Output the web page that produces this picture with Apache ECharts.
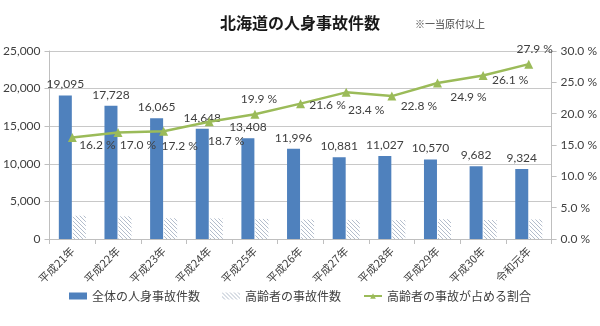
<!DOCTYPE html>
<html>
<head>
<meta charset="utf-8">
<script src="https://cdn.jsdelivr.net/npm/echarts@6/dist/echarts.min.js"></script>
<style>
  html, body { margin: 0; padding: 0; background: #fff; }
  #chart { width: 600px; height: 326px; }
</style>
</head>
<body>
<div id="chart"></div>
<script>
// 年次（平成21年〜令和元年）
const years = ['平成21年', '平成22年', '平成23年', '平成24年', '平成25年', '平成26年',
  '平成27年', '平成28年', '平成29年', '平成30年', '令和元年'];
// 全体の人身事故件数
const totalAccidents = [19095, 17728, 16065, 14648, 13408, 11996, 10881, 11027, 10570, 9682, 9324];
// 高齢者の事故件数
const elderlyAccidents = [3093, 3014, 2763, 2739, 2668, 2591, 2546, 2514, 2632, 2527, 2601];
// 高齢者の事故が占める割合（%）
const elderlyShare = [16.2, 17.0, 17.2, 18.7, 19.9, 21.6, 23.4, 22.8, 24.9, 26.1, 27.9];
// 左軸・右軸の目盛り
const countTicks = [0, 5000, 10000, 15000, 20000, 25000];
const shareTicks = [0, 5, 10, 15, 20, 25, 30];

// 割合ラベルの表示位置（点からのずらし量）
const shareLabelOffsets = [[25, 8], [20, 13], [16, 15], [17, 19], [4, -15], [27, 1],
  [20, 18], [27, 10], [31, 14], [27, 5], [6, -15]];

const numFont = 'Lato, "Noto Sans CJK JP", sans-serif';
const jpFont = '"Noto Sans CJK JP", sans-serif';

// 斜線の塗りパターン
function hatchPattern() {
  const c = document.createElement('canvas');
  c.width = 4; c.height = 4;
  const g = c.getContext('2d');
  g.fillStyle = '#ffffff';
  g.fillRect(0, 0, 4, 4);
  g.strokeStyle = '#aab6c6';
  g.lineWidth = 0.9;
  g.beginPath();
  g.moveTo(0, 0); g.lineTo(4, 4);
  g.moveTo(-2, 2); g.lineTo(2, 6);
  g.moveTo(2, -2); g.lineTo(6, 2);
  g.stroke();
  return c;
}
const hatch = { image: hatchPattern(), repeat: 'repeat' };

const chart = echarts.init(document.getElementById('chart'), null, { renderer: 'canvas' });

chart.setOption({
  animation: false,
  backgroundColor: '#ffffff',
  title: [
    {
      text: '北海道の人身事故件数',
      left: 'center',
      top: 10,
      textStyle: { fontFamily: jpFont, fontSize: 16, fontWeight: 'bold', color: '#1a1a1a' }
    },
    {
      text: '※一当原付以上',
      left: 410,
      top: 14,
      textStyle: { fontFamily: jpFont, fontSize: 10, fontWeight: 'normal', color: '#404040' }
    }
  ],
  grid: { left: 48, right: 46, top: 51, bottom: 87 },
  legend: {
    bottom: 19,
    left: 'center',
    itemGap: 22,
    itemWidth: 18,
    itemHeight: 7,
    textStyle: { fontFamily: jpFont, fontSize: 12, color: '#404040' },
    data: [
      { name: '全体の人身事故件数', icon: 'rect' },
      { name: '高齢者の事故件数', icon: 'rect' },
      { name: '高齢者の事故が占める割合' }
    ]
  },
  xAxis: {
    type: 'category',
    data: years,
    axisLine: { lineStyle: { color: '#bfbfbf' } },
    axisTick: { show: true, length: 5, lineStyle: { color: '#bfbfbf' } },
    axisLabel: {
      rotate: 45,
      margin: 10,
      fontFamily: jpFont,
      fontSize: 11,
      color: '#404040'
    }
  },
  yAxis: [
    {
      type: 'value',
      min: countTicks[0],
      max: countTicks[countTicks.length - 1],
      interval: countTicks[1] - countTicks[0],
      axisLine: { show: true, lineStyle: { color: '#bfbfbf' } },
      axisTick: { show: true, length: 5, lineStyle: { color: '#bfbfbf' } },
      splitLine: { lineStyle: { color: '#c8c8c8' } },
      axisLabel: {
        margin: 9,
        fontFamily: numFont,
        fontSize: 12,
        color: '#404040',
        formatter: v => v.toLocaleString('en-US')
      }
    },
    {
      type: 'value',
      min: shareTicks[0],
      max: shareTicks[shareTicks.length - 1],
      interval: shareTicks[1] - shareTicks[0],
      axisLine: { show: true, lineStyle: { color: '#bfbfbf' } },
      axisTick: { show: true, length: 5, lineStyle: { color: '#bfbfbf' } },
      splitLine: { show: false },
      axisLabel: {
        margin: 9,
        fontFamily: numFont,
        fontSize: 12,
        color: '#404040',
        formatter: v => v.toFixed(1) + ' %'
      }
    }
  ],
  series: [
    {
      name: '全体の人身事故件数',
      type: 'bar',
      data: totalAccidents,
      barWidth: 13,
      barGap: '8%',
      itemStyle: { color: '#4f81bd' },
      label: {
        show: true,
        position: 'top',
        distance: 5,
        fontFamily: numFont,
        fontSize: 12,
        color: '#404040',
        formatter: p => p.value.toLocaleString('en-US')
      }
    },
    {
      name: '高齢者の事故件数',
      type: 'bar',
      data: elderlyAccidents,
      barWidth: 13,
      itemStyle: { color: hatch }
    },
    {
      name: '高齢者の事故が占める割合',
      type: 'line',
      yAxisIndex: 1,
      data: elderlyShare.map((v, i) => ({
        value: v,
        label: { offset: shareLabelOffsets[i] }
      })),
      symbol: 'triangle',
      symbolSize: 9,
      itemStyle: { color: '#9bbb59' },
      lineStyle: { color: '#9bbb59', width: 2.5 },
      label: {
        show: true,
        position: 'inside',
        fontFamily: numFont,
        fontSize: 12,
        color: '#404040',
        formatter: p => p.value.toFixed(1) + ' %'
      },
      z: 5
    }
  ]
});
</script>
</body>
</html>
